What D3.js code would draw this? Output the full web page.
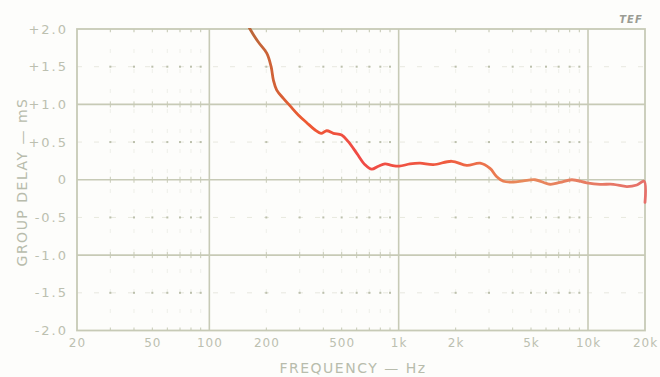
<!DOCTYPE html>
<html>
<head>
<meta charset="utf-8">
<script src="https://cdn.jsdelivr.net/npm/d3@7/dist/d3.min.js"></script>
<style>
  html, body { margin: 0; padding: 0; background: #fdfdfb; }
  svg { display: block; }
  .tick text { font-family: "DejaVu Sans", sans-serif; fill: #bcc0b0; }
</style>
</head>
<body>
<svg id="chart" width="660" height="377"></svg>
<script>
// Group delay (ms) measured against frequency (Hz)
const freqHz = [150, 164, 181, 201, 212, 218, 227, 246, 267, 295, 327, 362, 389, 417, 452, 500, 542, 601, 664,
  721, 781, 847, 919, 1008, 1148, 1297, 1525, 1907, 2290, 2692, 3038, 3297, 3573, 4035, 4557, 5251,
  6306, 7120, 8212, 9852, 11580, 13616, 16030, 18112, 19778, 20000];
const delayMs = [2.2, 2.0, 1.83, 1.68, 1.5, 1.32, 1.19, 1.08, 0.98, 0.86, 0.757, 0.66, 0.616, 0.65, 0.616, 0.594, 0.505, 0.35, 0.2,
  0.14, 0.18, 0.21, 0.19, 0.18, 0.21, 0.22, 0.2, 0.245, 0.19, 0.22, 0.15, 0.04, -0.02, -0.03, -0.015, 0.0,
  -0.06, -0.035, 0.0, -0.04, -0.06, -0.06, -0.09, -0.07, -0.02, -0.3];

const xTickValues = [20, 50, 100, 200, 500, 1000, 2000, 5000, 10000, 20000];
const xTickLabels = ["20", "50", "100", "200", "500", "1k", "2k", "5k", "10k", "20k"];
const yTickValues = [2, 1.5, 1, 0.5, 0, -0.5, -1, -1.5, -2];
const yTickLabels = ["+2.0", "+1.5", "+1.0", "+0.5", "0", "-0.5", "-1.0", "-1.5", "-2.0"];
const majorFreqs = [100, 1000, 10000];
const majorDelays = [1, 0, -1];
const halfDelays = [1.5, 0.5, -0.5, -1.5];

const svg = d3.select("#chart");
const plotLeft = 77, plotRight = 645, plotTop = 29, plotBottom = 330.5;
const gridColor = "#c7cab6";

const x = d3.scaleLog().domain([20, 20000]).range([plotLeft, plotRight]);
const y = d3.scaleLinear().domain([-2, 2]).range([plotBottom, plotTop]);

// minor decade steps: 30..90, 200..900, 2k..9k
const minorFreqs = [];
[10, 100, 1000].forEach(d => {
  for (let k = 2; k <= 9; k++) {
    const f = d * k;
    if (f > 20 && f < 20000 && !majorFreqs.includes(f)) minorFreqs.push(f);
  }
});

const grid = svg.append("g");

// faint half-millisecond lines
grid.selectAll("line.half").data(halfDelays).join("line")
  .attr("x1", plotLeft).attr("x2", plotRight)
  .attr("y1", d => y(d)).attr("y2", d => y(d))
  .attr("stroke", gridColor).attr("stroke-opacity", 0.4)
  .attr("stroke-width", 1).attr("stroke-dasharray", "5,12");

// faint minor frequency lines
grid.selectAll("line.minor").data(minorFreqs).join("line")
  .attr("x1", d => x(d)).attr("x2", d => x(d))
  .attr("y1", plotTop).attr("y2", plotBottom)
  .attr("stroke", gridColor).attr("stroke-opacity", 0.25)
  .attr("stroke-width", 1).attr("stroke-dasharray", "4,16");

// dots at minor intersections
const dots = [];
minorFreqs.forEach(f => halfDelays.forEach(v => dots.push([f, v])));
grid.selectAll("rect.dot").data(dots).join("rect")
  .attr("x", d => x(d[0]) - 1).attr("y", d => y(d[1]) - 1)
  .attr("width", 2).attr("height", 2)
  .attr("fill", "#bcc0ac");

// small tick marks on major lines and frame
const ticks = [];
minorFreqs.forEach(f => [2, 1, 0, -1, -2].forEach(v => ticks.push([f, v])));
grid.selectAll("line.tk").data(ticks).join("line")
  .attr("x1", d => x(d[0])).attr("x2", d => x(d[0]))
  .attr("y1", d => y(d[1]) - (d[1] === 2 ? 0 : 3))
  .attr("y2", d => y(d[1]) + (d[1] === -2 ? 0 : 3))
  .attr("stroke", gridColor).attr("stroke-width", 1);

// major lines
grid.selectAll("line.mx").data(majorFreqs).join("line")
  .attr("x1", d => x(d)).attr("x2", d => x(d))
  .attr("y1", plotTop).attr("y2", plotBottom)
  .attr("stroke", gridColor).attr("stroke-width", 1.6);
grid.selectAll("line.my").data(majorDelays).join("line")
  .attr("x1", plotLeft).attr("x2", plotRight)
  .attr("y1", d => y(d)).attr("y2", d => y(d))
  .attr("stroke", gridColor).attr("stroke-width", 1.6);

// frame
grid.append("rect")
  .attr("x", plotLeft).attr("y", plotTop)
  .attr("width", plotRight - plotLeft).attr("height", plotBottom - plotTop)
  .attr("fill", "none").attr("stroke", gridColor).attr("stroke-width", 1.8);

// axes (labels only)
const xAxis = d3.axisBottom(x).tickValues(xTickValues)
  .tickFormat((d, i) => xTickLabels[i]).tickSize(0).tickPadding(8);
svg.append("g").attr("transform", `translate(0,${plotBottom})`).call(xAxis)
  .call(g => g.select(".domain").remove())
  .selectAll("text").attr("font-size", 12).attr("letter-spacing", "1px");

const yAxis = d3.axisLeft(y).tickValues(yTickValues)
  .tickFormat((d, i) => yTickLabels[i]).tickSize(0).tickPadding(9);
svg.append("g").attr("transform", `translate(${plotLeft},0)`).call(yAxis)
  .call(g => g.select(".domain").remove())
  .selectAll("text").attr("font-size", 13).attr("letter-spacing", "2px");

// axis titles
svg.append("text")
  .attr("x", 353).attr("y", 373)
  .attr("text-anchor", "middle")
  .attr("font-family", "DejaVu Sans, sans-serif").attr("font-size", 14)
  .attr("letter-spacing", "1.5px").attr("fill", "#b8bcac")
  .text("FREQUENCY — Hz");

svg.append("text")
  .attr("transform", "translate(27,182) rotate(-90)")
  .attr("text-anchor", "middle")
  .attr("font-family", "DejaVu Sans, sans-serif").attr("font-size", 14)
  .attr("letter-spacing", "1.5px").attr("fill", "#b8bcac")
  .text("GROUP DELAY — mS");

// logo
svg.append("text")
  .attr("x", 631).attr("y", 23)
  .attr("text-anchor", "middle")
  .attr("font-family", "DejaVu Sans, sans-serif").attr("font-size", 10)
  .attr("font-style", "italic").attr("font-weight", "bold")
  .attr("fill", "#9a9c94").attr("letter-spacing", "1px")
  .text("TEF");

// curve
const defs = svg.append("defs");
defs.append("clipPath").attr("id", "plotClip")
  .append("rect").attr("x", plotLeft).attr("y", plotTop - 1)
  .attr("width", plotRight - plotLeft + 2).attr("height", plotBottom - plotTop + 2);

const grad = defs.append("linearGradient")
  .attr("id", "curveGrad").attr("gradientUnits", "userSpaceOnUse")
  .attr("x1", plotLeft).attr("x2", plotRight).attr("y1", 0).attr("y2", 0);
[[0.3, "#b8683a"], [0.4, "#ee5a32"], [0.5, "#f04a46"], [0.65, "#ef5b3e"], [0.78, "#e88a5a"], [1, "#e6706a"]]
  .forEach(s => grad.append("stop").attr("offset", s[0]).attr("stop-color", s[1]));

const line = d3.line()
  .x((d, i) => x(freqHz[i]))
  .y((d, i) => y(delayMs[i]))
  .curve(d3.curveCatmullRom.alpha(0.5));

svg.append("path")
  .datum(freqHz)
  .attr("clip-path", "url(#plotClip)")
  .attr("d", line)
  .attr("fill", "none")
  .attr("stroke", "url(#curveGrad)")
  .attr("stroke-width", 2.8)
  .attr("stroke-linejoin", "round")
  .attr("stroke-linecap", "round");
</script>
</body>
</html>
